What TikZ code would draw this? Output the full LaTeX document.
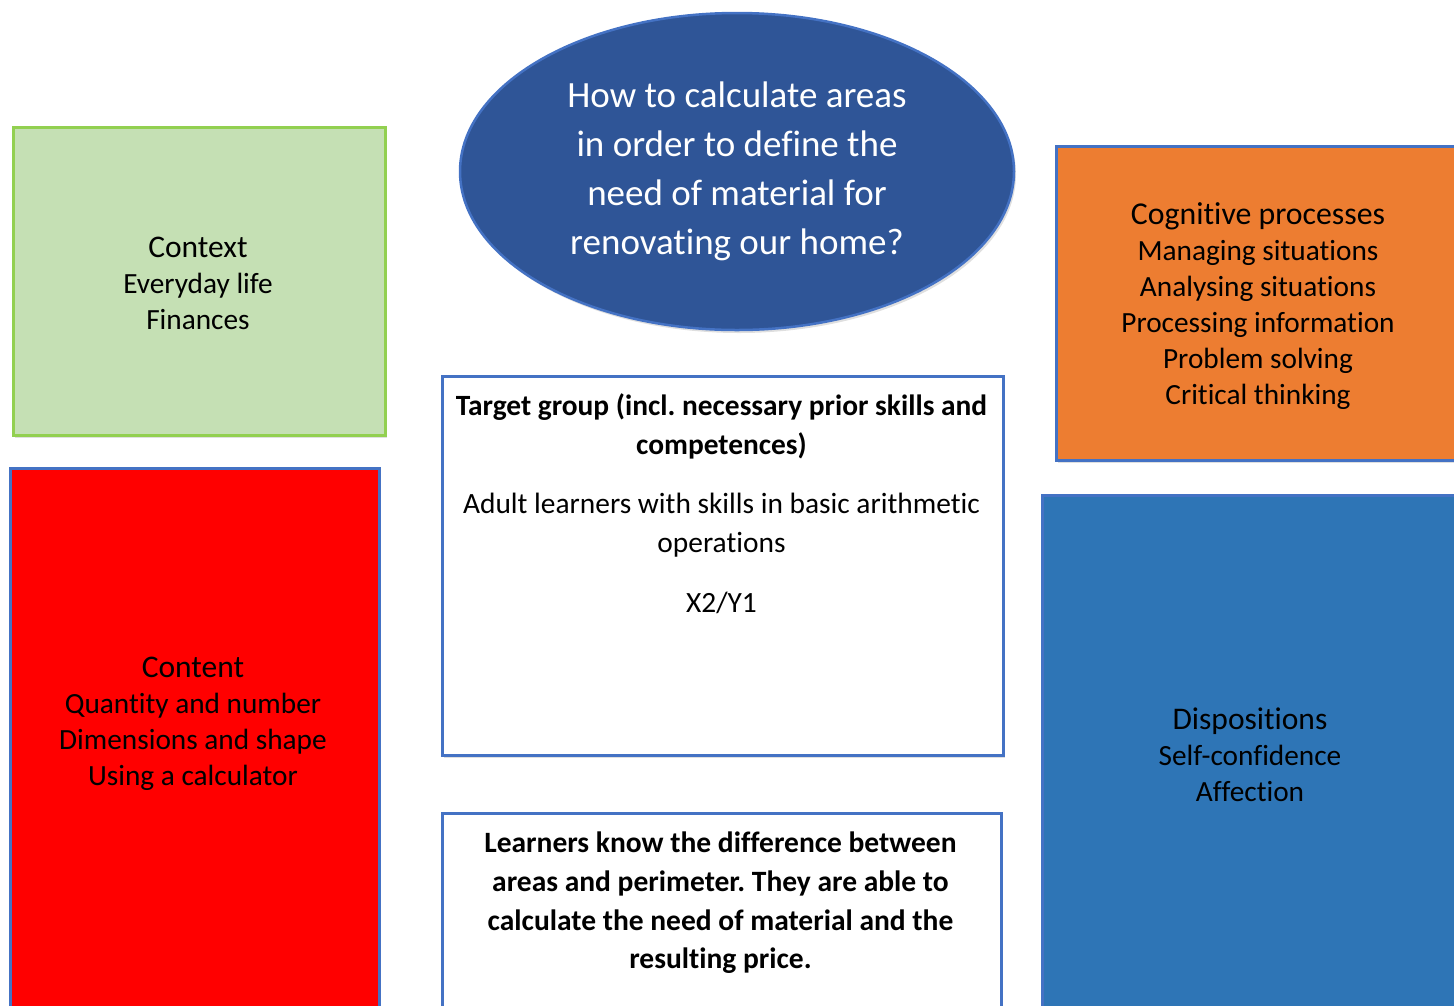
\documentclass[tikz,border=0pt]{standalone}
\usepackage{fontspec}
\setmainfont[Ligatures=CommonOff]{Carlito}
\usetikzlibrary{shapes.geometric,shadows}
\definecolor{frameblue}{HTML}{4472C4}
\definecolor{ctxgreen}{HTML}{C5E0B4}
\definecolor{ctxframe}{HTML}{92D050}
\definecolor{qblue}{HTML}{2F5597}
\definecolor{cogorange}{HTML}{ED7D31}
\definecolor{dispblue}{HTML}{2E75B6}
\definecolor{contred}{HTML}{FF0000}
\frenchspacing

\begin{document}
\begin{tikzpicture}[x=1pt,y=-1pt,
    box/.style={draw=frameblue,line width=2.5pt,inner sep=0pt,anchor=north west,
      drop shadow={shadow xshift=2pt,shadow yshift=-3pt,opacity=.25}},
    body/.style={align=center,inner sep=0pt,font=\fontsize{29.3}{36}\selectfont}]
    \useasboundingbox (0,0) rectangle (1454,1005);
    \clip (0,0) rectangle (1454,1005);

    \node[box,ellipse,anchor=center,fill=qblue,text=white,minimum width=554,minimum height=317,
      align=center,font=\fontsize{37}{49}\selectfont] (question) at (737,171.5)
      {How to calculate areas\\ in order to define the\\ need of material for\\ renovating our home?};

    \node[box,draw=ctxframe,fill=ctxgreen,minimum width=372,minimum height=308] (context) at (12,126) {};
    \node[body] (contexttxt) at (198,283) {{\fontsize{31.5}{37}\selectfont Context}\\ Everyday life\\ Finances};

    \node[box,fill=contred,minimum width=369,minimum height=580] (content) at (9,467) {};
    \node[body] (contenttxt) at (193,724) {{\fontsize{31.5}{37}\selectfont Content}\\ Quantity and number\\ Dimensions and shape\\ Using a calculator};

    \node[box,fill=cogorange,minimum width=420,minimum height=314] (cognitive) at (1055,145) {};
    \node[body] (cognitivetxt) at (1258,306) {{\fontsize{31.8}{37}\selectfont Cognitive processes}\\ Managing situations\\ Analysing situations\\ Processing information\\ Problem solving\\ Critical thinking};

    \node[box,fill=dispblue,minimum width=430,minimum height=580] (dispositions) at (1041,494) {};
    \node[body] (dispositionstxt) at (1250,755) {{\fontsize{31.5}{37}\selectfont Dispositions}\\ Self-confidence\\ Affection};

    \node[box,fill=white,minimum width=561,minimum height=379] (target) at (441,375) {};
    \node[body,font=\fontsize{29.4}{38.5}\selectfont] (targettxt) at (721.5,504)
      {\textbf{Target group (incl. necessary prior skills and}\\ \textbf{competences)}\\[21pt]
       Adult learners with skills in basic arithmetic\\ operations\\[22pt] X2/Y1};

    \node[box,fill=white,minimum width=559,minimum height=260] (goal) at (441,812) {};
    \node[body,font=\fontsize{29.5}{38.7}\selectfont\bfseries] (goaltxt) at (720.5,903)
      {Learners know the difference between\\ areas and perimeter. They are able to\\ calculate the need of material and the\\ resulting price.};
\end{tikzpicture}
\end{document}
